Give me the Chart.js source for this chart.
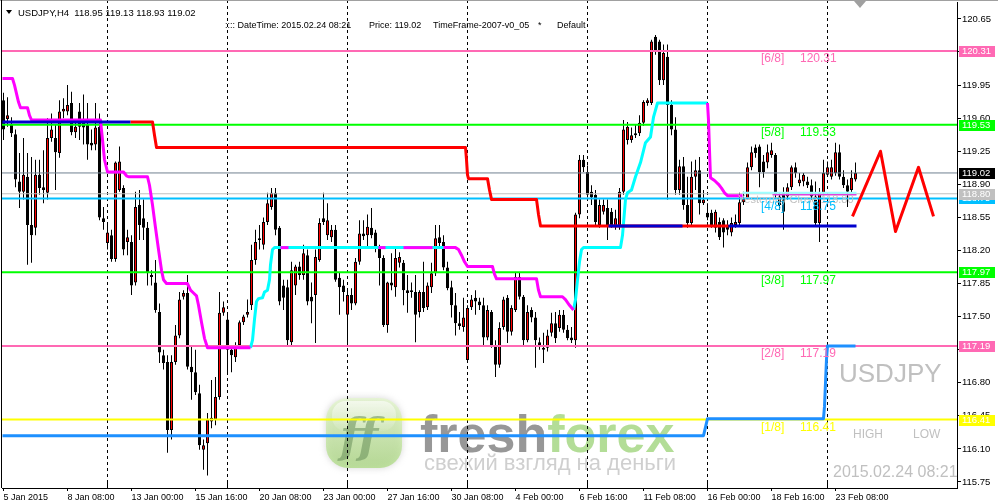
<!DOCTYPE html>
<html>
<head>
<meta charset="utf-8">
<title>USDJPY,H4</title>
<script src="https://cdn.jsdelivr.net/npm/chart.js@4.4.1/dist/chart.umd.min.js"></script>
<style>
html,body{margin:0;padding:0;background:#fff;overflow:hidden;}
canvas{display:block;}
</style>
</head>
<body>
<canvas id="chart" width="998" height="504"></canvas>
<script>
// ---------- DATA (USDJPY H4 candles, bar index 0..213) ----------
const opens = [
119.79,119.59,119.53,119.43,118.93,118.82,118.98,118.47,118.44,119.00,
118.87,118.81,119.39,119.39,119.23,119.67,119.67,119.76,119.45,119.67,
119.58,119.53,119.34,119.32,119.51,118.54,118.28,118.36,118.11,118.84,
118.86,118.29,118.29,117.86,118.68,118.54,118.44,117.94,117.86,117.55,
117.09,117.02,116.30,117.02,117.30,117.71,117.75,116.97,116.91,116.69,
116.09,116.16,116.39,116.41,116.65,117.54,117.47,117.15,117.07,117.20,
117.44,117.52,117.62,118.10,118.31,118.26,118.50,118.66,118.81,118.44,
117.83,117.81,117.23,117.83,118.03,117.94,118.15,117.71,117.73,118.10,
118.54,118.36,118.34,118.42,117.91,117.83,117.52,117.73,117.64,118.08,
118.38,118.36,118.44,118.39,118.23,118.12,117.41,117.86,117.81,118.07,
118.07,117.78,117.78,117.76,117.55,117.76,117.60,117.81,117.96,118.34,
118.29,118.02,117.81,117.62,117.43,117.39,117.04,117.60,117.70,117.66,
117.62,117.28,117.55,117.20,116.99,117.39,117.70,117.34,117.57,117.92,
117.71,117.25,117.57,117.49,117.23,117.17,117.17,117.33,117.43,117.38,
117.52,117.36,117.28,117.25,118.58,119.16,119.03,118.82,118.79,118.47,
118.61,118.65,118.61,118.45,118.45,118.82,119.37,119.37,119.42,119.44,
119.55,119.76,119.76,120.46,120.41,120.00,120.25,119.74,119.48,118.84,
119.09,118.68,118.49,118.98,119.05,118.70,118.60,118.60,118.44,118.50,
118.52,118.47,118.39,118.47,118.49,118.71,118.75,119.08,119.29,119.30,
119.14,119.13,119.21,119.21,118.77,118.81,118.77,118.87,119.08,118.91,
118.93,118.93,118.89,118.77,118.49,118.81,119.00,118.98,119.02,119.24,
118.98,118.89,118.84,118.95];
const highs = [
119.87,119.82,119.61,119.48,119.23,119.39,119.23,119.19,119.16,119.16,
119.26,119.60,119.65,119.53,119.79,119.81,119.95,119.88,119.55,119.76,
119.85,119.76,119.48,119.76,119.65,118.66,118.47,118.42,119.14,119.30,
118.89,118.42,118.36,118.82,118.84,118.74,118.50,117.99,118.10,117.64,
117.15,117.09,117.09,117.41,117.76,117.78,117.94,117.18,117.15,116.78,
116.20,116.48,116.83,116.86,117.76,117.66,117.54,117.18,117.23,117.46,
117.52,117.68,118.26,118.42,118.47,118.55,118.81,118.86,118.86,118.46,
117.89,117.89,118.08,118.05,118.08,118.26,118.21,117.86,118.21,118.54,
118.81,118.70,118.47,118.47,117.97,117.89,117.78,117.80,118.12,118.52,
118.52,118.58,118.65,118.42,118.26,118.15,117.87,118.17,118.23,118.18,
118.10,117.94,117.86,117.94,117.78,118.08,117.86,118.07,118.47,118.47,
118.36,118.08,117.88,117.75,117.55,117.70,117.62,117.73,117.78,117.70,
117.70,117.62,117.57,117.25,117.44,117.71,117.73,117.62,117.97,117.97,
117.73,117.62,117.60,117.55,117.28,117.33,117.36,117.54,117.55,117.57,
117.57,117.41,117.39,118.60,119.21,119.21,119.10,118.89,118.84,118.74,
118.74,118.74,118.65,118.63,118.86,119.58,119.56,119.50,119.53,119.63,
119.79,119.81,120.43,120.48,120.43,120.38,120.38,119.79,119.61,119.16,
119.19,118.98,119.14,119.16,119.19,118.84,118.70,118.63,118.63,118.55,
118.54,118.52,118.55,118.58,118.81,118.82,119.13,119.30,119.32,119.32,
119.21,119.32,119.34,119.23,118.81,118.87,118.91,119.10,119.13,119.02,
119.02,118.98,118.95,118.93,118.86,119.16,119.14,119.16,119.34,119.32,
119.05,118.95,119.05,119.13];
const lows = [
119.37,119.51,119.40,118.87,118.65,118.74,118.05,118.07,118.36,118.79,
118.70,118.74,119.35,118.84,119.18,119.60,119.63,119.42,119.39,119.37,
119.32,119.16,119.26,119.26,118.52,118.42,118.21,118.08,118.08,118.82,
118.15,118.15,117.73,117.83,118.31,118.31,117.83,117.83,117.54,117.01,
116.94,116.06,116.20,116.99,117.27,117.68,116.94,116.62,116.67,116.09,
115.88,115.82,116.32,116.35,116.62,117.51,116.90,116.91,117.02,117.17,
117.41,117.49,117.57,118.05,118.21,118.21,118.47,118.63,118.36,117.62,
117.57,117.20,117.18,117.73,117.89,117.89,117.62,117.43,117.22,118.08,
118.47,118.31,118.29,117.87,117.52,117.66,117.23,117.57,117.62,118.05,
118.31,118.24,118.33,118.18,117.83,117.39,117.33,117.78,117.71,118.02,
117.62,117.54,117.70,117.23,117.49,117.55,117.57,117.75,117.93,118.23,
117.99,117.78,117.49,117.30,117.36,117.34,117.02,117.57,117.52,117.57,
117.18,117.25,117.17,116.86,116.96,117.36,117.22,117.30,117.55,117.68,
117.20,117.23,117.44,116.96,117.15,117.01,117.13,117.29,117.22,117.34,
117.33,117.25,117.22,117.17,118.54,119.03,118.76,118.68,118.47,118.44,
118.58,118.31,118.44,118.42,118.42,118.79,119.32,119.34,119.39,119.41,
119.52,119.73,119.74,120.27,119.95,119.95,118.74,119.42,118.79,118.79,
118.63,118.44,118.47,118.84,118.58,118.68,118.52,118.44,118.39,118.31,
118.23,118.36,118.35,118.44,118.46,118.68,118.74,119.05,119.18,118.87,
118.97,119.07,119.18,118.76,118.63,118.42,118.74,118.84,118.97,118.88,
118.88,118.86,118.74,118.46,118.29,118.78,118.99,118.95,118.99,118.95,
118.86,118.66,118.81,118.93];
const closes = [
119.48,119.63,119.44,118.95,118.82,119.00,118.47,118.36,119.00,118.86,
118.84,119.39,119.48,119.24,119.67,119.70,119.74,119.45,119.51,119.51,
119.50,119.32,119.31,119.50,118.55,118.50,118.39,118.11,119.13,119.14,
118.21,118.34,117.83,118.66,118.47,118.44,117.96,117.92,117.57,117.12,
117.01,116.30,117.02,117.30,117.68,117.75,116.97,116.91,116.70,116.14,
116.14,116.41,116.43,116.65,117.54,117.60,117.15,117.09,117.20,117.44,
117.50,117.55,118.10,118.29,118.33,118.50,118.70,118.81,118.42,117.66,
117.70,117.25,117.99,118.03,117.94,118.17,117.66,117.66,118.13,118.49,
118.50,118.52,118.42,117.89,117.81,117.76,117.73,117.64,118.08,118.38,
118.35,118.45,118.36,118.23,118.12,117.41,117.86,117.83,118.12,118.13,
117.78,117.75,117.76,117.52,117.76,117.59,117.83,117.96,118.33,118.28,
118.02,117.80,117.62,117.43,117.40,117.49,117.59,117.68,117.66,117.62,
117.28,117.57,117.20,116.99,117.38,117.68,117.34,117.59,117.92,117.71,
117.25,117.55,117.49,117.25,117.20,117.15,117.30,117.43,117.27,117.52,
117.36,117.27,117.25,118.58,119.16,119.08,118.79,118.76,118.50,118.68,
118.68,118.47,118.47,118.54,118.82,119.48,119.51,119.42,119.44,119.55,
119.77,119.79,120.41,120.32,120.00,120.29,119.74,119.48,118.84,119.09,
118.68,118.49,118.98,119.05,118.70,118.74,118.55,118.47,118.61,118.34,
118.39,118.42,118.49,118.50,118.71,118.75,119.08,119.24,119.23,119.03,
119.03,119.24,119.26,118.79,118.68,118.61,118.87,119.08,119.02,118.95,
119.00,118.89,118.77,118.49,118.81,119.02,119.08,119.08,119.24,118.98,
118.89,118.82,118.97,119.02];

// time axis labels (bar index -> text)
const xTickIndex  = [0,16,32,48,64,80,96,112,128,144,160,176,192,208];
const xTickLabels = ['5 Jan 2015','8 Jan 08:00','13 Jan 00:00','15 Jan 16:00','20 Jan 08:00','23 Jan 00:00','27 Jan 16:00','30 Jan 08:00','4 Feb 00:00','6 Feb 16:00','11 Feb 08:00','16 Feb 00:00','18 Feb 16:00','23 Feb 08:00'];
const separatorIndex = [26,56,86,116,146,176,206];
// price axis ticks
const yTicks = [115.75,116.10,116.45,116.80,117.15,117.50,117.85,118.20,118.55,118.90,119.25,119.60,119.95,120.30,120.65];

// Murrey math levels
const murreyTags   = ['[6/8]','[5/8]','[4/8]','[3/8]','[2/8]','[1/8]'];
const murreyLevels = [120.31,119.53,118.75,117.97,117.19,116.41];
const murreyColors = ['#FF69B4','#00FF00','#00BFFF','#00FF00','#FF69B4','#FFFF00'];
const bidPrice = 119.02;
const yesterdayClose = 118.80;

// indicator paths: [barIndex, price]
const magentaA = [[-0.25,120.02],[2.25,120.02],[2.75,119.95],[3.75,119.77],[4.25,119.71],[6,119.71],[6.5,119.63],[7,119.58],[24.25,119.58],[24.75,119.37],[25.25,119.16],[26,119.03],[30,119.03],[30.75,118.99],[31.25,118.98],[36,118.98],[36.5,118.89],[37.25,118.68],[38,118.44],[38.75,118.21],[39.5,117.99],[40,117.89],[40.75,117.85],[46,117.85],[46.75,117.78],[47.5,117.75],[48.25,117.72],[48.75,117.62],[49.5,117.44],[50.25,117.27],[51,117.17],[61.75,117.17]];
const cyanA = [[61.75,117.17],[62.25,117.25],[62.75,117.47],[63.25,117.66],[63.75,117.69],[64.75,117.70],[65.25,117.76],[66,117.78],[66.5,117.89],[66.75,118.05],[67.25,118.21],[67.75,118.23],[113,118.23]];
const magentaP1 = [[69.25,118.23],[71.25,118.23]];
const magentaP2 = [[93.75,118.23],[95.5,118.23]];
const magentaP3 = [[100,118.23],[107.25,118.23]];
const magentaB = [[110,118.23],[113,118.23],[113.75,118.21],[114.5,118.15],[115.25,118.08],[116,118.03],[122.25,118.03],[122.75,117.95],[123.25,117.90],[133.25,117.90],[133.75,117.78],[134.25,117.71],[139.75,117.71],[140.5,117.68],[141.5,117.62],[142.5,117.57]];
const cyanB = [[142.5,117.57],[143,117.68],[143.5,117.89],[144,118.08],[144.5,118.21],[145,118.23],[154.25,118.23],[154.75,118.36],[155.5,118.74],[156,118.81],[157,118.84],[158,118.98],[159.25,119.13],[160.5,119.34],[161.75,119.40],[162.5,119.61],[163.5,119.76],[176,119.76]];
const magentaC = [[176,119.76],[176.25,119.58],[176.5,119.26],[176.75,118.97],[177.75,118.94],[178.75,118.90],[179.5,118.86],[180.25,118.81],[181,118.78],[184.75,118.78]];
const cyanThin = [[184.75,118.81],[213.25,118.81]];
const magentaThin = [[192.25,118.79],[213.25,118.79]];
const redPath = [[31.75,119.56],[37.25,119.56],[37.75,119.42],[38.25,119.29],[115.5,119.29],[115.75,119.16],[116,119.00],[116.25,118.96],[121,118.96],[121.5,118.84],[122,118.74],[133.25,118.74],[133.75,118.58],[134.25,118.46],[181.25,118.46]];
const blueA = [[-0.25,119.56],[31.75,119.56]];
const blueB = [[151.25,118.46],[169.75,118.46]];
const blueC = [[181.25,118.46],[213.25,118.46]];
const dodgerPath = [[-0.25,116.24],[175,116.24],[175.5,116.33],[176,116.42],[205,116.42],[205.25,116.55],[205.5,116.80],[205.75,117.05],[206,117.19],[213,117.19]];
const zigzag = [[212.25,118.56],[219.25,119.25],[223,118.40],[228.75,119.08],[232.5,118.56]];

// right-axis price tags
const axisTagValues = [120.31,119.53,119.02,118.75,118.80,117.97,117.19,116.41];
const axisTagColors = ['#FF69B4','#00FF00','#000000','#00BFFF','#C0C0C0','#00FF00','#FF69B4','#FFFF00'];

// ---------- CHART ----------
const FONT = '"Liberation Sans", Arial, sans-serif';
Chart.defaults.font.family = FONT;
Chart.defaults.color = '#000';

const X_MIN = -0.375, X_MAX = X_MIN + 955 / 4;
const Y_MIN = 115.6865, Y_MAX = 120.829;

const idx = opens.map((_, i) => i);
const bull = idx.map(i => closes[i] >= opens[i]);

function pathDs(path, color, width, order) {
  return {
    type: 'line', data: path.map(p => ({x: p[0], y: p[1]})),
    borderColor: color, borderWidth: width, pointRadius: 0, tension: 0,
    fill: false, order: order, borderJoinStyle: 'round', borderCapStyle: 'butt'
  };
}
function levelDs(v, color, width, order) {
  return pathDs([[X_MIN, v], [X_MAX, v]], color, width, order);
}

const datasets = [
  { type: 'bar', data: idx.map(i => ({x: i, y: [lows[i], highs[i]]})),
    backgroundColor: '#000', borderWidth: 0, barThickness: 1, maxBarThickness: 1,
    grouped: false, inflateAmount: 0, order: 9 },
  { type: 'bar', data: idx.map(i => ({x: i, y: [opens[i], closes[i]]})),
    backgroundColor: idx.map(i => bull[i] ? '#FF0000' : '#000000'),
    borderColor: '#000', borderWidth: 1, borderSkipped: false,
    barThickness: 3, maxBarThickness: 3, minBarLength: 1,
    grouped: false, inflateAmount: 0, order: 8 },
  ...murreyLevels.map((v, k) => levelDs(v, murreyColors[k], 2, 6)),
  levelDs(bidPrice, '#708090', 1, 6),
  levelDs(yesterdayClose, '#C0C0C0', 1, 6),
  pathDs(dodgerPath, '#1E90FF', 3, 5),
  pathDs(cyanA, '#00FFFF', 3, 4),
  pathDs(cyanB, '#00FFFF', 3, 4),
  pathDs(cyanThin, '#9FFFFF', 2, 4),
  pathDs(magentaA, '#FF00FF', 3, 3),
  pathDs(magentaP1, '#FF00FF', 3, 3),
  pathDs(magentaP2, '#FF00FF', 3, 3),
  pathDs(magentaP3, '#FF00FF', 3, 3),
  pathDs(magentaB, '#FF00FF', 3, 3),
  pathDs(magentaC, '#FF00FF', 3, 3),
  pathDs(magentaThin, '#E040E0', 1.5, 3),
  pathDs(redPath, '#FF0000', 3, 2),
  pathDs(blueA, '#0000CD', 3, 1),
  pathDs(blueB, '#0000CD', 3, 1),
  pathDs(blueC, '#0000CD', 3, 1),
  pathDs(zigzag, '#FF0000', 3, 0)
];

function roundRect(ctx, x, y, w, h, r) {
  ctx.beginPath();
  ctx.moveTo(x + r, y);
  ctx.arcTo(x + w, y, x + w, y + h, r);
  ctx.arcTo(x + w, y + h, x, y + h, r);
  ctx.arcTo(x, y + h, x, y, r);
  ctx.arcTo(x, y, x + w, y, r);
  ctx.closePath();
}

function drawLogo(ctx) {
  ctx.save();
  ctx.globalAlpha = 0.7;
  ctx.shadowColor = 'rgba(150,150,150,0.55)';
  ctx.shadowBlur = 7;
  const g = ctx.createLinearGradient(0, 398, 0, 468);
  g.addColorStop(0, '#e4f8cc'); g.addColorStop(0.5, '#c4e89e'); g.addColorStop(1, '#a6d878');
  roundRect(ctx, 326, 398, 76, 70, 22);
  ctx.fillStyle = g; ctx.fill();
  ctx.shadowBlur = 0;
  const h = ctx.createLinearGradient(0, 401, 0, 433);
  h.addColorStop(0, 'rgba(255,255,255,0.85)'); h.addColorStop(1, 'rgba(255,255,255,0.05)');
  roundRect(ctx, 332, 401, 64, 30, 14);
  ctx.fillStyle = h; ctx.fill();
  ctx.fillStyle = 'rgba(110,150,95,0.85)';
  ctx.font = 'italic bold 46px "DejaVu Serif", serif';
  ctx.textBaseline = 'alphabetic'; ctx.textAlign = 'left';
  ctx.fillText('ff', 340, 452);
  ctx.globalAlpha = 0.8;
  ctx.font = 'bold 52px ' + FONT;
  ctx.fillStyle = 'rgb(125,125,125)';
  ctx.fillText('fresh', 420, 452);
  const w = ctx.measureText('fresh').width;
  ctx.fillStyle = 'rgb(160,212,125)';
  ctx.fillText('forex', 420 + w, 452);
  ctx.font = '22px ' + FONT;
  ctx.fillStyle = 'rgb(195,195,195)';
  ctx.fillText('свежий взгляд на деньги', 424, 470);
  ctx.restore();
}

const overlay = {
  id: 'overlay',
  beforeDatasetsDraw(chart) {
    const {ctx, chartArea: a, scales: {x}} = chart;
    ctx.save();
    drawLogo(ctx);
    ctx.strokeStyle = '#000'; ctx.lineWidth = 1;
    ctx.setLineDash([3, 3]);
    separatorIndex.forEach(s => {
      const px = Math.round(x.getPixelForValue(s) - 0.5) + 0.5;
      ctx.beginPath(); ctx.moveTo(px, 0); ctx.lineTo(px, a.bottom); ctx.stroke();
    });
    ctx.setLineDash([]);
    separatorIndex.forEach(s => {
      const px = Math.round(x.getPixelForValue(s) - 0.5) + 0.5;
      ctx.beginPath(); ctx.moveTo(px, a.bottom - 5); ctx.lineTo(px, a.bottom); ctx.stroke();
    });
    ctx.restore();
  },
  afterDatasetsDraw(chart) {
    const {ctx, chartArea: a, scales: {y}} = chart;
    ctx.save();
    ctx.beginPath(); ctx.rect(a.left, a.top, a.right - a.left, a.bottom - a.top); ctx.clip();
    ctx.textAlign = 'left';
    ctx.textBaseline = 'top';
    ctx.font = '11px ' + FONT;
    ctx.fillStyle = '#C0C0C0';
    ctx.fillText('Yesterday Close ' + yesterdayClose.toFixed(2), 738, y.getPixelForValue(yesterdayClose) + 1);
    ctx.font = '12px ' + FONT;
    murreyLevels.forEach((v, k) => {
      const ty = y.getPixelForValue(v) + 2;
      ctx.fillStyle = murreyColors[k];
      ctx.fillText(murreyTags[k], 761, ty);
      ctx.fillText(v.toFixed(2), 800, ty);
    });
    ctx.textBaseline = 'alphabetic';
    ctx.fillStyle = '#C0C0C0';
    ctx.font = '26px ' + FONT;
    ctx.fillText('USDJPY', 839, 382);
    ctx.font = '12px ' + FONT;
    ctx.fillText('HIGH', 853, 438);
    ctx.fillText('LOW', 913, 438);
    ctx.font = '16px ' + FONT;
    ctx.fillText('2015.02.24 08:21', 833, 477);
    ctx.restore();
  },
  afterDraw(chart) {
    const {ctx, chartArea: a, scales: {y}} = chart;
    ctx.save();
    ctx.strokeStyle = '#A0A0A0'; ctx.lineWidth = 1;
    ctx.beginPath(); ctx.moveTo(0, 0.5); ctx.lineTo(998, 0.5); ctx.stroke();
    ctx.strokeStyle = '#000';
    ctx.beginPath(); ctx.moveTo(1.5, 0); ctx.lineTo(1.5, a.bottom); ctx.stroke();
    ctx.font = '9.5px ' + FONT;
    ctx.textAlign = 'left'; ctx.textBaseline = 'middle';
    axisTagValues.forEach((v, k) => {
      const cy = Math.round(y.getPixelForValue(v));
      ctx.fillStyle = axisTagColors[k];
      ctx.fillRect(959, cy - 5, 36, 11);
      ctx.fillStyle = '#FFFFFF';
      ctx.fillText(v.toFixed(2), 962, cy + 0.5);
    });
    const last = opens.length - 1;
    ctx.fillStyle = '#000';
    ctx.beginPath(); ctx.moveTo(6, 10); ctx.lineTo(12, 10); ctx.lineTo(9, 14); ctx.closePath(); ctx.fill();
    ctx.font = '9.5px ' + FONT;
    ctx.textBaseline = 'alphabetic';
    ctx.fillText('USDJPY,H4  ' + [opens[last], highs[last], lows[last], closes[last]].map(v => v.toFixed(2)).join(' '), 18, 16);
    ctx.font = '9px ' + FONT;
    ctx.fillText(':::: DateTime: 2015.02.24 08:21', 225, 28);
    ctx.fillText('Price: ' + closes[last].toFixed(2), 369, 28);
    ctx.fillText('TimeFrame-2007-v0_05', 433, 28);
    ctx.fillText('*', 538, 28);
    ctx.fillText('Default', 557, 28);
    ctx.fillStyle = '#A0A0A0';
    ctx.beginPath(); ctx.moveTo(854, 1); ctx.lineTo(866, 1); ctx.lineTo(860, 8); ctx.closePath(); ctx.fill();
    ctx.restore();
  }
};

new Chart(document.getElementById('chart').getContext('2d'), {
  type: 'bar',
  data: { datasets },
  options: {
    responsive: false, animation: false, devicePixelRatio: 1, events: [],
    layout: { padding: { left: 2, top: 2, right: 0, bottom: 0 } },
    plugins: { legend: { display: false }, tooltip: { enabled: false } },
    scales: {
      x: {
        type: 'linear', position: 'bottom', min: X_MIN, max: X_MAX, offset: false,
        afterBuildTicks: s => { s.ticks = xTickIndex.map(v => ({value: v})); },
        afterFit: s => { s.height = 16; s.paddingLeft = 0; s.paddingRight = 0; },
        ticks: { autoSkip: false, maxRotation: 0, minRotation: 0, align: 'start', padding: 1,
                 color: '#000', font: { size: 9, family: FONT },
                 callback: (v, i) => xTickLabels[i] },
        grid: { drawOnChartArea: false, offset: false, tickLength: 3, color: '#000' },
        border: { color: '#000', width: 1 }
      },
      y: {
        type: 'linear', position: 'right', min: Y_MIN, max: Y_MAX,
        afterBuildTicks: s => { s.ticks = yTicks.map(v => ({value: v})); },
        afterFit: s => { s.width = 41; s.paddingTop = 0; s.paddingBottom = 0; },
        ticks: { padding: 1, color: '#000', font: { size: 9.5, family: FONT },
                 callback: v => Number(v).toFixed(2) },
        grid: { drawOnChartArea: false, tickLength: 4, color: '#000' },
        border: { color: '#000', width: 1 }
      }
    }
  },
  plugins: [overlay]
});
</script>
</body>
</html>
